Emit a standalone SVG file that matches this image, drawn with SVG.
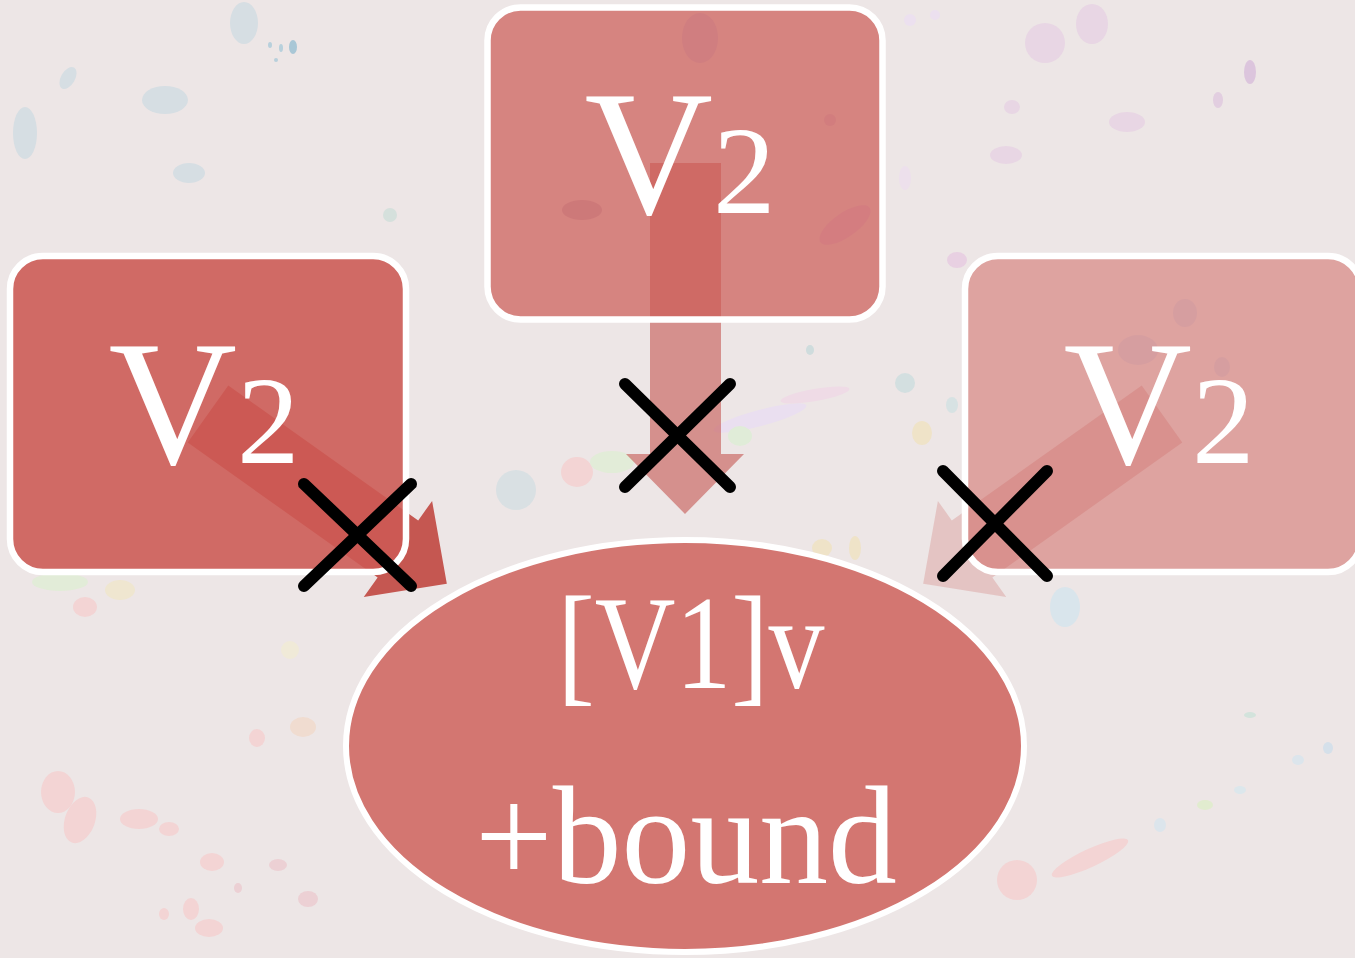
<svg xmlns="http://www.w3.org/2000/svg" width="1355" height="958" viewBox="0 0 1355 958">
  <defs>
    <style>
      .box { stroke: #ffffff; stroke-width: 6.5; fill: #cc5a54; }
      .oval { stroke: #ffffff; stroke-width: 6; fill: #cc5a54; fill-opacity: 0.8; }
      .arrow { fill: #c55751; }
      .xmark { stroke: #000000; stroke-width: 12; stroke-linecap: round; fill: none; }
      .lbl { fill: #ffffff; font-family: "Liberation Serif", "DejaVu Serif", serif; text-anchor: middle; }
      .bl { fill: #d6dee3; }
      .pk { fill: #f3d4d4; }
      .yl { fill: #efe6d0; }
      .lv { fill: #e8d6e4; }
      .gr { fill: #e2ecd8; }
    </style>
    <polygon id="diagArrow" points="0,-35 233,-35 233,-59 293,0 233,59 233,35 0,35"/>
  </defs>

  <g id="background">
    <rect x="0" y="0" width="1355" height="958" fill="#ede6e6"/>
    <ellipse class="bl" cx="25" cy="133" rx="12" ry="26"/>
    <ellipse class="bl" cx="68" cy="78" rx="7" ry="12" transform="rotate(30 68 78)"/>
    <ellipse class="bl" cx="165" cy="100" rx="23" ry="14" fill="#d2dce2"/>
    <ellipse class="bl" cx="189" cy="173" rx="16" ry="10"/>
    <ellipse class="bl" cx="244" cy="23" rx="14" ry="21"/>
    <ellipse cx="270" cy="45" rx="2" ry="3" fill="#b8d0dc"/>
    <ellipse cx="281" cy="48" rx="2" ry="4" fill="#b8d0dc"/>
    <ellipse cx="293" cy="47" rx="4" ry="7" fill="#a9c7d6"/>
    <ellipse cx="276" cy="60" rx="2" ry="2" fill="#b8d0dc"/>
    <ellipse cx="390" cy="215" rx="7" ry="7" fill="#d5e0dc"/>
    <ellipse class="pk" cx="58" cy="792" rx="17" ry="21"/>
    <ellipse class="pk" cx="80" cy="820" rx="15" ry="24" transform="rotate(20 80 820)"/>
    <ellipse class="pk" cx="139" cy="819" rx="19" ry="10"/>
    <ellipse class="pk" cx="169" cy="829" rx="10" ry="7"/>
    <ellipse class="pk" cx="212" cy="862" rx="12" ry="9"/>
    <ellipse cx="278" cy="865" rx="9" ry="6" fill="#ecd0d4"/>
    <ellipse cx="238" cy="888" rx="4" ry="5" fill="#ecd0d4"/>
    <ellipse cx="308" cy="899" rx="10" ry="8" fill="#ecd0d4"/>
    <ellipse class="pk" cx="164" cy="914" rx="5" ry="6"/>
    <ellipse class="pk" cx="191" cy="909" rx="8" ry="11"/>
    <ellipse class="pk" cx="209" cy="928" rx="14" ry="9"/>
    <ellipse cx="290" cy="650" rx="9" ry="9" fill="#f0ead8"/>
    <ellipse cx="303" cy="727" rx="13" ry="10" fill="#f0dcd0"/>
    <ellipse class="pk" cx="257" cy="738" rx="8" ry="9"/>
    <ellipse class="pk" cx="85" cy="607" rx="12" ry="10"/>
    <ellipse class="yl" cx="120" cy="590" rx="15" ry="10"/>
    <ellipse class="gr" cx="60" cy="582" rx="28" ry="9"/>
    <ellipse cx="516" cy="490" rx="20" ry="20" fill="#d9e0e3"/>
    <ellipse class="pk" cx="577" cy="472" rx="16" ry="15"/>
    <ellipse class="gr" cx="612" cy="462" rx="22" ry="11" fill="#e6eed5"/>
    <ellipse cx="760" cy="418" rx="48" ry="8" transform="rotate(-15 760 418)" fill="#eadff0"/>
    <ellipse cx="740" cy="436" rx="12" ry="10" fill="#e0ecd8"/>
    <ellipse cx="815" cy="395" rx="35" ry="6" transform="rotate(-10 815 395)" fill="#efdbe6"/>
    <ellipse cx="810" cy="350" rx="4" ry="5" fill="#cfdcdd"/>
    <ellipse cx="905" cy="383" rx="10" ry="10" fill="#d3dfe0"/>
    <ellipse cx="952" cy="405" rx="6" ry="8" fill="#d7e2e3"/>
    <ellipse cx="922" cy="433" rx="10" ry="12" fill="#efe3c8"/>
    <ellipse cx="822" cy="548" rx="10" ry="9" fill="#efe3c8"/>
    <ellipse cx="855" cy="548" rx="6" ry="12" fill="#efe3c8"/>
    <ellipse cx="1065" cy="607" rx="15" ry="20" fill="#d9e5ec"/>
    <ellipse class="pk" cx="1090" cy="858" rx="42" ry="9" transform="rotate(-25 1090 858)"/>
    <ellipse class="pk" cx="1017" cy="880" rx="20" ry="20" fill="#f3d9d9"/>
    <ellipse cx="1160" cy="825" rx="6" ry="7" fill="#dce5ec"/>
    <ellipse cx="1205" cy="805" rx="8" ry="5" fill="#e1eccf"/>
    <ellipse cx="1240" cy="790" rx="6" ry="4" fill="#dce7ec"/>
    <ellipse cx="1298" cy="760" rx="6" ry="5" fill="#dce5ec"/>
    <ellipse cx="1328" cy="748" rx="5" ry="6" fill="#d5e0ea"/>
    <ellipse cx="1250" cy="715" rx="6" ry="3" fill="#d3e3dc"/>
    <ellipse class="lv" cx="1045" cy="43" rx="20" ry="20" fill="#e6d5e2"/>
    <ellipse class="lv" cx="1092" cy="24" rx="16" ry="20"/>
    <ellipse class="lv" cx="1127" cy="122" rx="18" ry="10" fill="#eed7e3"/>
    <ellipse class="lv" cx="1006" cy="155" rx="16" ry="9" fill="#e6d5e2"/>
    <ellipse cx="1250" cy="72" rx="6" ry="12" fill="#dcc5dd"/>
    <ellipse cx="1218" cy="100" rx="5" ry="8" fill="#e2cee0"/>
    <ellipse class="lv" cx="1012" cy="107" rx="8" ry="7"/>
    <ellipse cx="905" cy="178" rx="6" ry="12" fill="#ede0ec"/>
    <ellipse cx="910" cy="20" rx="6" ry="6" fill="#ece0ef"/>
    <ellipse cx="935" cy="15" rx="5" ry="5" fill="#ece0ef"/>
    <ellipse cx="957" cy="260" rx="10" ry="8" fill="#e8d0e2"/>
    <ellipse cx="700" cy="38" rx="18" ry="25" fill="#d9d2e6"/>
    <ellipse cx="582" cy="210" rx="20" ry="10" fill="#d0c1cf"/>
    <ellipse cx="845" cy="225" rx="30" ry="12" transform="rotate(-35 845 225)" fill="#e6cfe8"/>
    <ellipse cx="830" cy="120" rx="6" ry="6" fill="#e0d0e0"/>
    <ellipse cx="1185" cy="313" rx="12" ry="14" fill="#dfdde6"/>
    <ellipse cx="1138" cy="350" rx="20" ry="15" fill="#dfdde6"/>
    <ellipse cx="1222" cy="367" rx="8" ry="10" fill="#dfdde6"/>
  </g>

  <g id="connectors">
    <use href="#diagArrow" class="arrow" transform="translate(208,414) rotate(35.4)"/>
    <polygon class="arrow" fill-opacity="0.6" points="650,163 721,163 721,454 744,454 685,514 626,454 650,454"/>
    <use href="#diagArrow" class="arrow" fill-opacity="0.23" transform="translate(1162,414) scale(-1,1) rotate(35.4)"/>
  </g>

  <g id="node-left">
    <rect class="box" fill-opacity="0.89" x="10" y="256" width="396" height="316" rx="33"/>
    <text class="lbl" x="204" y="463" font-size="178">V<tspan font-size="125">2</tspan></text>
  </g>

  <g id="node-top">
    <rect class="box" fill-opacity="0.7" x="487.5" y="7.5" width="395" height="312" rx="33"/>
    <text class="lbl" x="680" y="213" font-size="178">V<tspan font-size="125">2</tspan></text>
  </g>

  <g id="node-right">
    <rect class="box" fill-opacity="0.48" x="965" y="256" width="396" height="316" rx="33"/>
    <text class="lbl" x="1159" y="463" font-size="178">V<tspan font-size="125">2</tspan></text>
  </g>

  <g id="node-bottom">
    <ellipse class="oval" cx="685" cy="746" rx="339" ry="206"/>
    <text class="lbl" x="691" y="688" font-size="134" textLength="267" lengthAdjust="spacingAndGlyphs">[V1]v</text>
    <text class="lbl" x="686" y="883" font-size="140" textLength="422" lengthAdjust="spacingAndGlyphs">+bound</text>
  </g>

  <g id="connector-marks">
    <line class="xmark" x1="304" y1="484" x2="411" y2="586"/>
    <line class="xmark" x1="411" y1="484" x2="304" y2="586"/>
    <line class="xmark" x1="625" y1="384" x2="730" y2="487"/>
    <line class="xmark" x1="730" y1="384" x2="625" y2="487"/>
    <line class="xmark" x1="943" y1="471" x2="1047" y2="576"/>
    <line class="xmark" x1="1047" y1="471" x2="943" y2="576"/>
  </g>
</svg>
